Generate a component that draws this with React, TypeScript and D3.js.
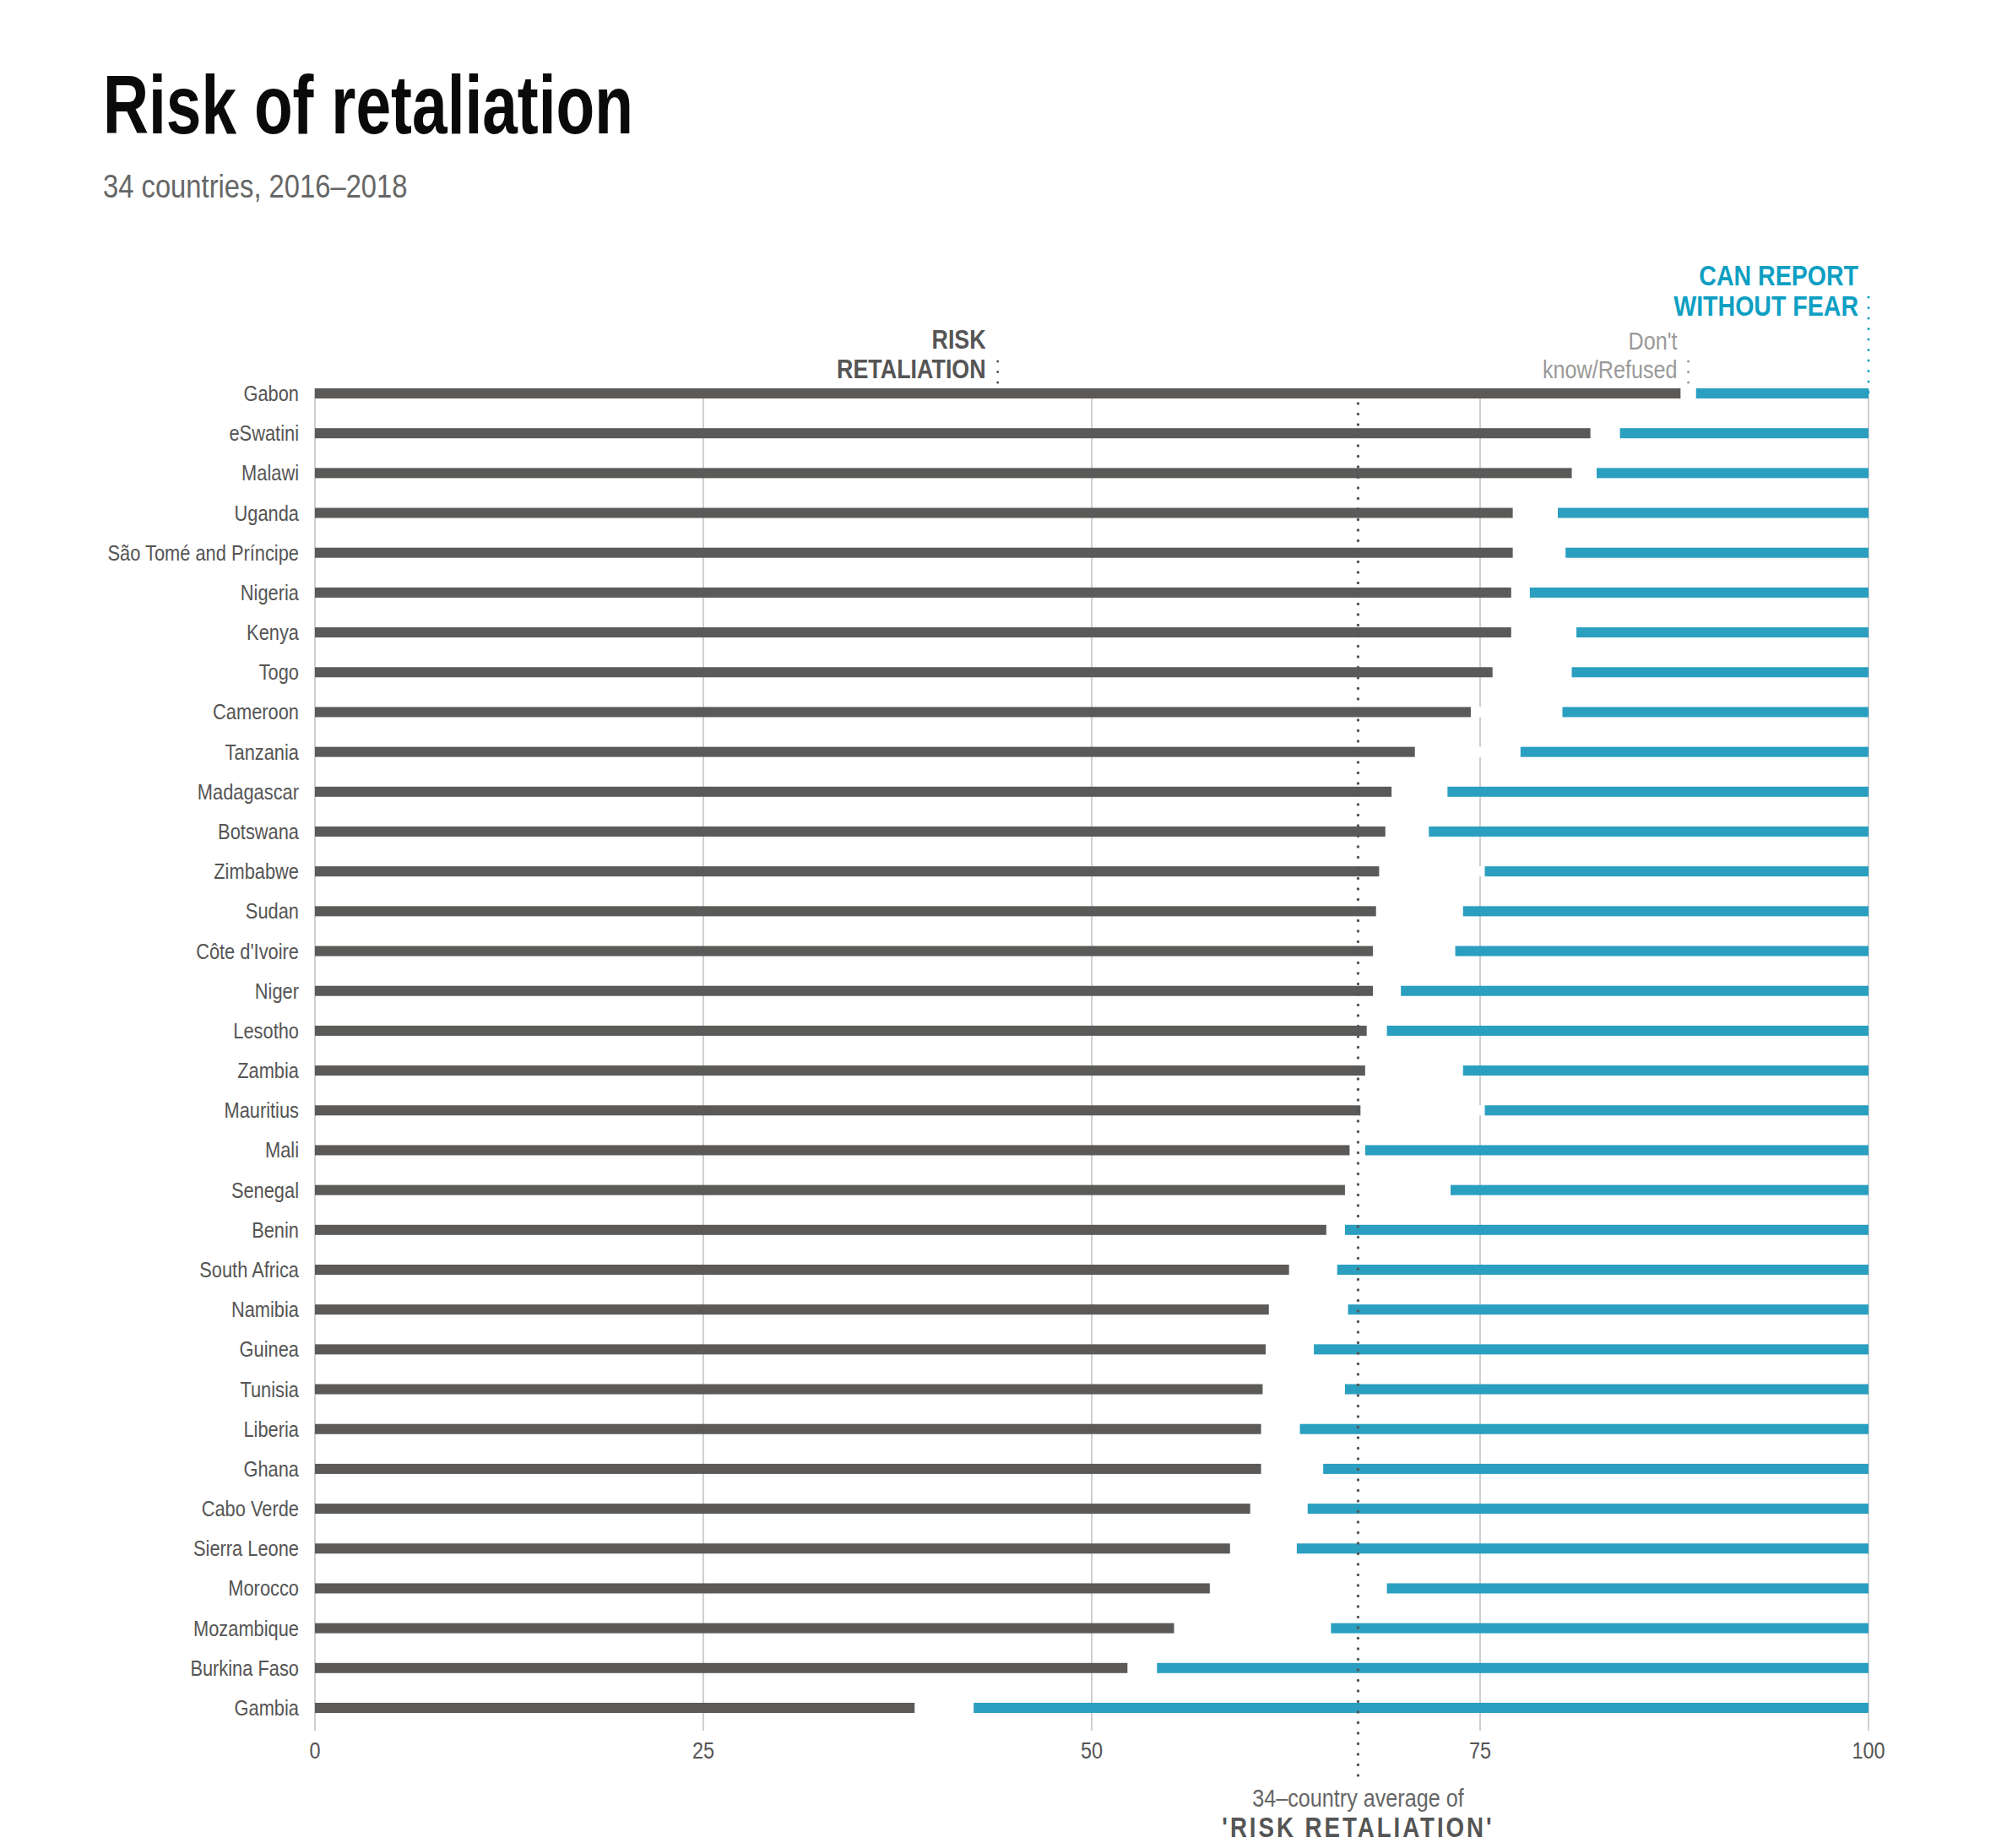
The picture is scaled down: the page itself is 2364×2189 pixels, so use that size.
import * as React from 'react'
import * as d3 from 'd3'

const countries = [
  'Gabon', 'eSwatini', 'Malawi', 'Uganda', 'São Tomé and Príncipe', 'Nigeria', 'Kenya', 'Togo',
  'Cameroon', 'Tanzania', 'Madagascar', 'Botswana', 'Zimbabwe', 'Sudan', "Côte d'Ivoire", 'Niger',
  'Lesotho', 'Zambia', 'Mauritius', 'Mali', 'Senegal', 'Benin', 'South Africa', 'Namibia', 'Guinea',
  'Tunisia', 'Liberia', 'Ghana', 'Cabo Verde', 'Sierra Leone', 'Morocco', 'Mozambique',
  'Burkina Faso', 'Gambia',
]

// % who say they risk retaliation
const riskRetaliation = [
  87.9, 82.1, 80.9, 77.1, 77.1, 77.0, 77.0, 75.8, 74.4, 70.8, 69.3, 68.9, 68.5, 68.3, 68.1, 68.1,
  67.7, 67.6, 67.3, 66.6, 66.3, 65.1, 62.7, 61.4, 61.2, 61.0, 60.9, 60.9, 60.2, 58.9, 57.6, 55.3,
  52.3, 38.6,
]

// % who say they can report without fear
const canReport = [
  11.1, 16.0, 17.5, 20.0, 19.5, 21.8, 18.8, 19.1, 19.7, 22.4, 27.1, 28.3, 24.7, 26.1, 26.6, 30.1,
  31.0, 26.1, 24.7, 32.4, 26.9, 33.7, 34.2, 33.5, 35.7, 33.7, 36.6, 35.1, 36.1, 36.8, 31.0, 34.6,
  45.8, 57.6,
]

const xTicks = [0, 25, 50, 75, 100]

const W = 2364
const H = 2189
const FONT = '"Liberation Sans", Arial, sans-serif'
const DARK = '#5b5a58'
const BLUE = '#2a9fc0'
const BLUE_TEXT = '#0e9fc3'
const SQ = 0.84 // horizontal squeeze to mimic a narrow face

// text squeezed horizontally around its anchor point
function NText({ x, y, sx = SQ, children, ...rest }: any) {
  return (
    <text transform={`translate(${x},${y}) scale(${sx},1)`} {...rest}>
      {children}
    </text>
  )
}

export default function App() {
  const x = d3.scaleLinear().domain([0, 100]).range([373, 2213])
  const y = d3.scalePoint<string>().domain(countries).range([466, 2023])
  const barH = 12
  const avg = d3.mean(riskRetaliation) as number

  const top = y(countries[0]) as number
  const bottom = y(countries[countries.length - 1]) as number

  const gabonRisk = riskRetaliation[0]
  const gabonStart = 100 - canReport[0]
  const xRiskNote = x(gabonRisk / 2)
  const xDkNote = x((gabonRisk + gabonStart) / 2)
  const xCanNote = x(100)

  return (
    <svg width={W} height={H} style={{ position: 'absolute', left: 0, top: 0, background: '#fff' }} fontFamily={FONT}>
      <rect width={W} height={H} fill="#fff" />

      {/* title */}
      <text x={122} y={158} fontSize={98} fontWeight="bold" fill="#0a0a0a" textLength={628} lengthAdjust="spacingAndGlyphs">
        Risk of retaliation
      </text>
      <NText x={122} y={234} fontSize={39} fill="#666">34 countries, 2016–2018</NText>

      {/* gridlines */}
      {xTicks.map(t => (
        <g key={t}>
          <line x1={x(t)} x2={x(t)} y1={top - 6} y2={bottom + 27} stroke="#cfcfcf" strokeWidth={2} />
          <NText x={x(t)} y={2083} fontSize={28} fill="#555" textAnchor="middle">{t}</NText>
        </g>
      ))}

      {/* bars */}
      {countries.map((c, i) => {
        const yc = y(c) as number
        const start = 100 - canReport[i]
        return (
          <g key={c}>
            <rect x={x(riskRetaliation[i])} y={yc - barH / 2} width={x(start) - x(riskRetaliation[i])} height={barH} fill="#fff" />
            <rect x={x(0)} y={yc - barH / 2} width={x(riskRetaliation[i]) - x(0)} height={barH} fill={DARK} />
            <rect x={x(start)} y={yc - barH / 2} width={x(100) - x(start)} height={barH} fill={BLUE} />
            <NText x={354} y={yc + 9} fontSize={26} fill="#555" textAnchor="end">{c}</NText>
          </g>
        )
      })}

      {/* average line */}
      <line x1={x(avg)} x2={x(avg)} y1={top + 12} y2={2105} stroke="#555" strokeWidth={3.5}
        strokeDasharray="0 12.5" strokeLinecap="round" />
      <NText x={x(avg)} y={2140} fontSize={30} fill="#666" textAnchor="middle">34–country average of</NText>
      <NText x={x(avg)} y={2176} fontSize={33} fontWeight="bold" fill="#555" textAnchor="middle" letterSpacing={3.5}>
        'RISK RETALIATION'
      </NText>

      {/* top annotations */}
      <NText x={xRiskNote - 14} y={413} fontSize={32} fontWeight="bold" fill="#555" textAnchor="end">RISK</NText>
      <NText x={xRiskNote - 14} y={448} fontSize={32} fontWeight="bold" fill="#555" textAnchor="end">RETALIATION</NText>
      <line x1={xRiskNote} x2={xRiskNote} y1={428} y2={454} stroke="#555" strokeWidth={3}
        strokeDasharray="0 12.5" strokeLinecap="round" />

      <NText x={xDkNote - 13} y={414} fontSize={30} fill="#999" textAnchor="end">Don't</NText>
      <NText x={xDkNote - 13} y={448} fontSize={30} fill="#999" textAnchor="end">know/Refused</NText>
      <line x1={xDkNote} x2={xDkNote} y1={428} y2={454} stroke="#999" strokeWidth={3}
        strokeDasharray="0 12.5" strokeLinecap="round" />

      <NText x={xCanNote - 12} y={338} fontSize={34} fontWeight="bold" fill={BLUE_TEXT} textAnchor="end">CAN REPORT</NText>
      <NText x={xCanNote - 12} y={374} fontSize={34} fontWeight="bold" fill={BLUE_TEXT} textAnchor="end">WITHOUT FEAR</NText>
      <line x1={xCanNote} x2={xCanNote} y1={352} y2={465} stroke={BLUE_TEXT} strokeWidth={3}
        strokeDasharray="0 12.5" strokeLinecap="round" />
    </svg>
  )
}
